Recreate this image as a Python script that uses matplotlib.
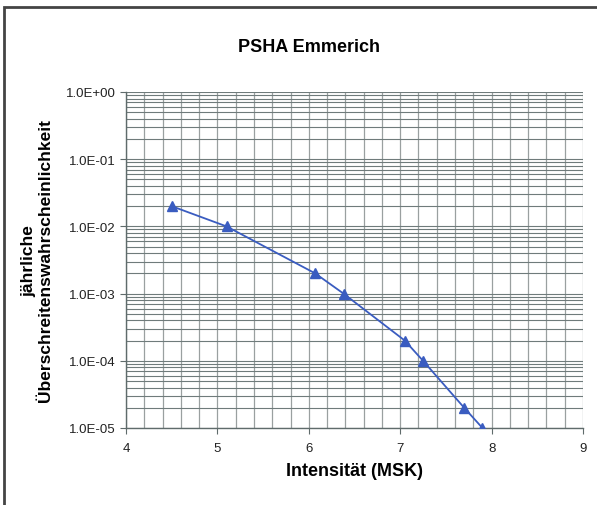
import numpy as np
import matplotlib.pyplot as plt
from matplotlib.ticker import FixedLocator, LogLocator, FuncFormatter, NullFormatter
from matplotlib.patches import Rectangle

# hazard curve: intensity vs annual exceedance probability
intensity = [4.5, 5.1, 6.07, 6.38, 7.05, 7.25, 7.7, 7.9]
probability = [2e-2, 1e-2, 2e-3, 1e-3, 2e-4, 1e-4, 2e-5, 1e-5]

x_ticks = [4, 5, 6, 7, 8, 9]
y_ticks = [1e-5, 1e-4, 1e-3, 1e-2, 1e-1, 1e0]

plt.rcParams['font.family'] = ['Liberation Sans', 'DejaVu Sans']

fig = plt.figure(figsize=(5.97, 5.06), dpi=100)
ax = fig.add_axes([126/597, 1 - 429/506, (583 - 126)/597, (429 - 93)/506])

# outer chart frame (only top and left edges visible)
fig.patches.append(Rectangle((4/597, -0.1), 1.2, 1 - 8/506 + 0.1, transform=fig.transFigure,
                             fill=False, edgecolor='#444444', linewidth=2))

ax.plot(intensity, probability, color='#3a5cc0', linewidth=1.3, marker='^',
        markersize=7, markerfacecolor='#3a5cc0', markeredgecolor='#3a5cc0', zorder=3)

ax.set_yscale('log')
ax.set_xlim(4, 9)
ax.set_ylim(1e-5, 1e0)

ax.xaxis.set_major_locator(FixedLocator(x_ticks))
ax.xaxis.set_minor_locator(FixedLocator(np.arange(4, 9.01, 0.2)))
ax.yaxis.set_major_locator(FixedLocator(y_ticks))
ax.yaxis.set_minor_locator(LogLocator(base=10, subs=np.arange(2, 10), numticks=20))
ax.yaxis.set_major_formatter(FuncFormatter(lambda v, p: f'{v:.1E}'))
ax.yaxis.set_minor_formatter(NullFormatter())

# vertical lines lighter than the horizontal ones
ax.grid(True, which='both', axis='x', color='#9aa0a0', linewidth=0.9)
ax.grid(True, which='both', axis='y', color='#6f7b7b', linewidth=0.8)
ax.set_axisbelow(True)

for side in ['top', 'right']:
    ax.spines[side].set_visible(False)
for side in ['left', 'bottom']:
    ax.spines[side].set_color('#5f6b6b')
    ax.spines[side].set_linewidth(1.0)

ax.tick_params(which='major', length=4, color='#5f6b6b', labelsize=9.5, labelcolor='#222222')
ax.tick_params(axis='x', which='major', pad=6)
ax.tick_params(which='minor', length=0)

fig.text(309/597, 1 - 48/506, 'PSHA Emmerich', ha='center', va='center',
         fontsize=13, fontweight='bold')
fig.text(354/597, 1 - 472/506, 'Intensität (MSK)', ha='center', va='center',
         fontsize=13, fontweight='bold')
fig.text(37/597, 1 - 261/506, 'jährliche\nÜberschreitenswahrscheinlichkeit', ha='center',
         va='center', rotation=90, fontsize=12.5, fontweight='bold', linespacing=1.1)

fig.savefig('out.png', dpi=100)
